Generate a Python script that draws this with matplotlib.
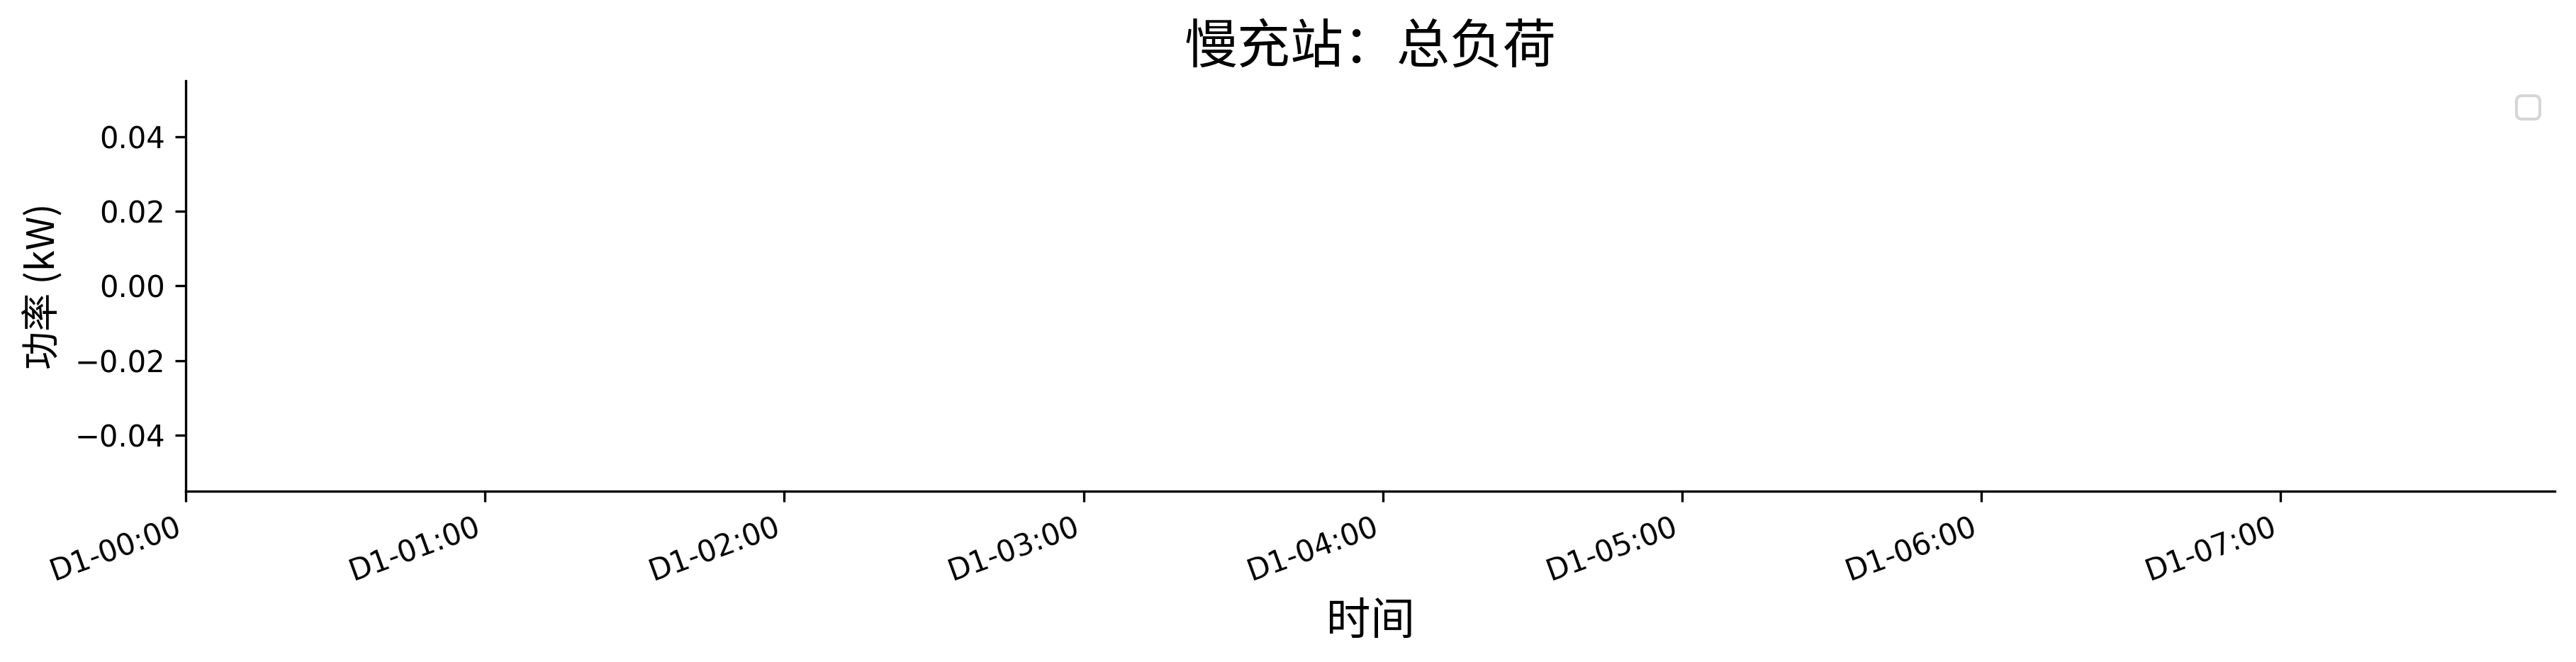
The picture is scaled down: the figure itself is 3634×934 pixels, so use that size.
import matplotlib
matplotlib.use("Agg")
from matplotlib import pyplot as plt

plt.rcParams['font.family'] = ['DejaVu Sans', 'Noto Sans CJK SC']
plt.rcParams['axes.unicode_minus'] = True

# 5-minute steps over the shown window (96 slots, 0..95)
n_slots = 96
tick_pos = [0, 12, 24, 36, 48, 60, 72, 84]
tick_labels = ["D1-00:00", "D1-01:00", "D1-02:00", "D1-03:00",
               "D1-04:00", "D1-05:00", "D1-06:00", "D1-07:00"]
# total load of the slow charging station: no data in this window
slow_total_load = []

cjk = ['Noto Sans CJK SC', 'DejaVu Sans']

fig = plt.figure(figsize=(3634 / 300, 934 / 300), dpi=300)
ax = fig.add_axes([0.0721, 0.258, 0.9197, 0.620])

ax.plot(range(len(slow_total_load)), slow_total_load)

ax.set_xlim(0, n_slots - 1)
ax.set_ylim(-0.055, 0.055)
ax.set_xticks(tick_pos)
ax.set_xticklabels(tick_labels, rotation=20, ha='right', fontsize=10)
ax.set_yticks([-0.04, -0.02, 0.0, 0.02, 0.04])
ax.tick_params(axis='y', labelsize=10)

ax.spines['top'].set_visible(False)
ax.spines['right'].set_visible(False)

ax.set_title("慢充站：总负荷", fontsize=18, family=cjk)
ax.set_xlabel("时间", fontsize=15, family=cjk)
ax.set_ylabel("功率 (kW)", fontsize=13, family=cjk)
ax.legend(loc='upper right')

fig.savefig("out.png", dpi=300)
